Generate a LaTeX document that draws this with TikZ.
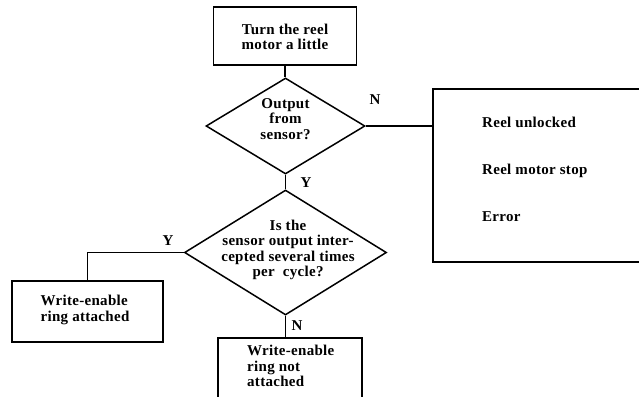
\documentclass[tikz,border=0pt]{standalone}
\usepackage{fontspec}
\setmainfont{Liberation Serif}[LetterSpace=2]
\usetikzlibrary{shapes.geometric}
\begin{document}
\begin{tikzpicture}[x=1pt,y=-1pt,
  line/.style={line width=1.5pt},
  boxnode/.style={draw,line width=1.5pt,rectangle,inner sep=0pt},
  dianode/.style={draw,line width=1.5pt,diamond,inner sep=0pt},
  txt/.style={font=\fontsize{15}{15.5}\selectfont\bfseries,inner sep=0pt},
  lbl/.style={font=\fontsize{15}{15.5}\selectfont\bfseries,inner sep=0pt}]
\useasboundingbox (0,0) rectangle (639,396);
\clip (0,0) rectangle (639,396);
% boxes
\node[boxnode,minimum width=143pt,minimum height=58pt] (b1) at (285,36) {};
\node[txt,align=center] (t1) at (285,37) {Turn the reel\\motor a little};
\node[dianode,minimum width=159pt,minimum height=96pt] (d1) at (285.5,126) {};
\node[txt,align=center] (td1) at (285.5,119) {Output\\from\\sensor?};
\node[boxnode,minimum width=230pt,minimum height=173pt] (rb) at (548,175.5) {};
\node[txt,anchor=west] (r1) at (482,122) {Reel unlocked};
\node[txt,anchor=west] (r2) at (482,171) {Reel motor stop};
\node[txt,anchor=west] (r3) at (482,217) {Error};
\node[dianode,minimum width=202pt,minimum height=125pt] (d2) at (285.5,252.5) {};
\node[txt,align=center] (td2) at (288,250) {Is the\\sensor output inter-\\cepted several times\\per\ \ cycle?};
\node[boxnode,minimum width=151pt,minimum height=61pt] (lb) at (87.5,311.5) {};
\node[txt,align=left] (tl) at (85,310) {Write-enable\\ring attached};
\node[boxnode,minimum width=144pt,minimum height=80pt] (bb) at (290,378) {};
\node[txt,align=left,anchor=north west] (tb) at (247,345) {Write-enable\\ring not\\attached};
% connectors
\draw[line] (b1.south) -- (b1.south |- d1.north);
\draw[line] (d1.east) -- (d1.east -| rb.west);
\draw[line] (d1.south) -- (d2.north);
\draw[line] (d2.west) -| (lb.north);
\draw[line] (d2.south) -- (d2.south |- bb.north);
% labels
\node[lbl] (n1) at (375,100) {N};
\node[lbl] (y1) at (306,183) {Y};
\node[lbl] (y2) at (168,241) {Y};
\node[lbl] (n2) at (297,326) {N};
\end{tikzpicture}
\end{document}
